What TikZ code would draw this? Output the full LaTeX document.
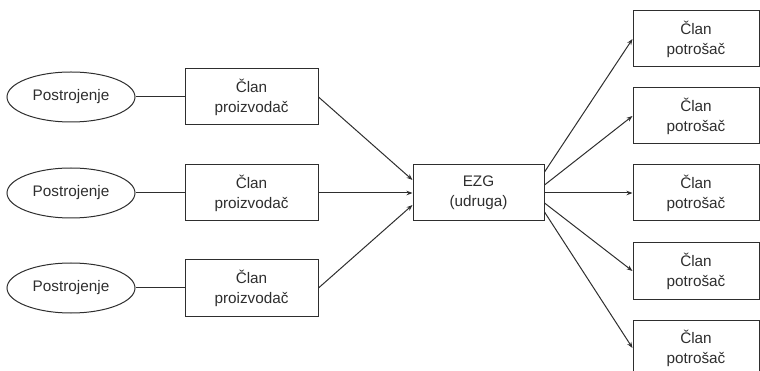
\documentclass[tikz,border=0pt]{standalone}
\usepackage{fontspec}
\setmainfont{Liberation Sans}
\usetikzlibrary{arrows.meta,shapes.geometric}
\definecolor{ink}{HTML}{2E2E2E}
\tikzset{
  lbl/.style={font=\fontsize{15.3}{20}\selectfont, text=ink, align=center, inner sep=0pt},
  plant/.style={lbl, draw=ink, line width=1pt, ellipse, minimum width=128pt, minimum height=50pt},
  member/.style={lbl, draw=ink, line width=1pt, rectangle, minimum width=133pt, minimum height=56pt},
  hub/.style={member, minimum width=131pt},
  consumer/.style={member, minimum width=126pt},
  link/.style={draw=ink, line width=1pt},
  arr/.style={link, -{Stealth[length=6pt,width=4.5pt]}}
}
\begin{document}
\begin{tikzpicture}[x=1pt,y=-1pt]
\useasboundingbox (0,0) rectangle (760,371);
\node[plant] (p1) at (71,97) {Postrojenje};
\node[plant] (p2) at (71,193) {Postrojenje};
\node[plant] (p3) at (71,288) {Postrojenje};
\node[member] (m1) at (251.5,97) {Član\\proizvodač};
\node[member] (m2) at (251.5,193) {Član\\proizvodač};
\node[member] (m3) at (251.5,288) {Član\\proizvodač};
\node[hub] (ezg) at (478.5,193) {EZG\\(udruga)};
\node[consumer] (c1) at (696,39) {Član\\potrošač};
\node[consumer] (c2) at (696,116) {Član\\potrošač};
\node[consumer] (c3) at (696,193) {Član\\potrošač};
\node[consumer] (c4) at (696,271) {Član\\potrošač};
\node[consumer] (c5) at (696,348) {Član\\potrošač};
\draw[link] (p1) -- (m1);
\draw[link] (p2) -- (m2);
\draw[link] (p3) -- (m3);
\draw[arr] (m1.east) -- ([yshift=13pt]ezg.west);
\draw[arr] (m2.east) -- (ezg.west);
\draw[arr] (m3.east) -- ([yshift=-12pt]ezg.west);
\draw[arr] ([yshift=21pt]ezg.east) -- (c1.west);
\draw[arr] ([yshift=8pt]ezg.east) -- (c2.west);
\draw[arr] (ezg.east) -- (c3.west);
\draw[arr] ([yshift=-10pt]ezg.east) -- (c4.west);
\draw[arr] ([yshift=-19pt]ezg.east) -- (c5.west);
\end{tikzpicture}
\end{document}
